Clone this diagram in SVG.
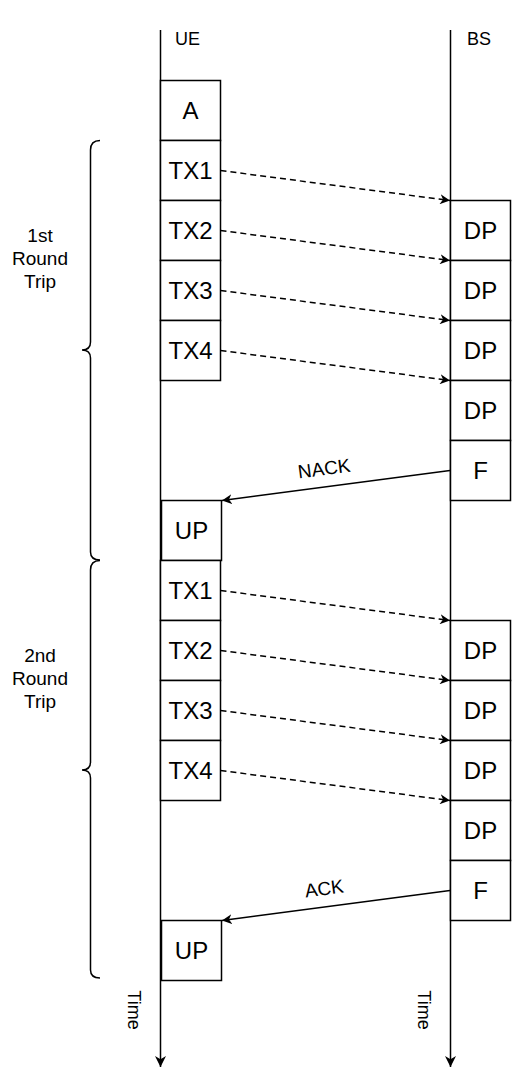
<svg xmlns="http://www.w3.org/2000/svg" width="516" height="1081" viewBox="0 0 516 1081">
<defs>
<style>
.box{fill:#fff;stroke:#000;stroke-width:1.5}
.bt{font-family:"Liberation Sans",Arial,sans-serif;font-size:24px;fill:#000;text-anchor:middle;dominant-baseline:central}
.lbl{font-family:"Liberation Sans",Arial,sans-serif;font-size:19px;fill:#000;text-anchor:middle}
.hd{font-family:"Liberation Sans",Arial,sans-serif;font-size:18px;fill:#000}
.tm{font-family:"Liberation Sans",Arial,sans-serif;font-size:18px;fill:#000;text-anchor:middle;dominant-baseline:central}
.life{stroke:#000;stroke-width:1.5;fill:none}
.dash{stroke:#000;stroke-width:1.5;fill:none;stroke-dasharray:6 4}
.solid{stroke:#000;stroke-width:1.5;fill:none}
.brace{stroke:#000;stroke-width:1.5;fill:none}
</style>
<marker id="arr" viewBox="0 0 10 10" refX="10" refY="5" markerWidth="10" markerHeight="10" markerUnits="userSpaceOnUse" orient="auto">
<path d="M0,0 L10,5 L0,10 L3,5 Z" fill="#000"/>
</marker>
<marker id="arrT" viewBox="0 0 10 10" refX="10" refY="5" markerWidth="11" markerHeight="11" markerUnits="userSpaceOnUse" orient="auto">
<path d="M0,0 L10,5 L0,10 L3,5 Z" fill="#000"/>
</marker>
</defs>
<rect width="516" height="1081" fill="#fff"/>

<g id="lifelines">
<line class="life" x1="160.5" y1="30" x2="160.5" y2="1067" marker-end="url(#arrT)"/>
<line class="life" x1="450.5" y1="30" x2="450.5" y2="1067" marker-end="url(#arrT)"/>
<text class="hd" x="175" y="45">UE</text>
<text class="hd" x="467" y="45">BS</text>
<text class="tm" transform="translate(134,1010) rotate(90)">Time</text>
<text class="tm" transform="translate(424,1010) rotate(90)">Time</text>
</g>

<g id="ue-round1">
<g id="A"><rect class="box" x="160.5" y="80.5" width="60" height="60"/><text class="bt" x="190.5" y="110.5">A</text></g>
<g id="TX1a"><rect class="box" x="160.5" y="140.5" width="60" height="60"/><text class="bt" x="190.5" y="170.5">TX1</text></g>
<g id="TX2a"><rect class="box" x="160.5" y="200.5" width="60" height="60"/><text class="bt" x="190.5" y="230.5">TX2</text></g>
<g id="TX3a"><rect class="box" x="160.5" y="260.5" width="60" height="60"/><text class="bt" x="190.5" y="290.5">TX3</text></g>
<g id="TX4a"><rect class="box" x="160.5" y="320.5" width="60" height="60"/><text class="bt" x="190.5" y="350.5">TX4</text></g>
<g id="UPa"><rect class="box" x="161.5" y="500.5" width="60" height="60"/><text class="bt" x="191.5" y="530.5">UP</text></g>
</g>

<g id="ue-round2">
<g id="TX1b"><rect class="box" x="160.5" y="560.5" width="60" height="60"/><text class="bt" x="190.5" y="590.5">TX1</text></g>
<g id="TX2b"><rect class="box" x="160.5" y="620.5" width="60" height="60"/><text class="bt" x="190.5" y="650.5">TX2</text></g>
<g id="TX3b"><rect class="box" x="160.5" y="680.5" width="60" height="60"/><text class="bt" x="190.5" y="710.5">TX3</text></g>
<g id="TX4b"><rect class="box" x="160.5" y="740.5" width="60" height="60"/><text class="bt" x="190.5" y="770.5">TX4</text></g>
<g id="UPb"><rect class="box" x="161.5" y="920.5" width="60" height="60"/><text class="bt" x="191.5" y="950.5">UP</text></g>
</g>

<g id="bs-round1">
<g id="DP1a"><rect class="box" x="450.5" y="200.5" width="60" height="60"/><text class="bt" x="480.5" y="230.5">DP</text></g>
<g id="DP2a"><rect class="box" x="450.5" y="260.5" width="60" height="60"/><text class="bt" x="480.5" y="290.5">DP</text></g>
<g id="DP3a"><rect class="box" x="450.5" y="320.5" width="60" height="60"/><text class="bt" x="480.5" y="350.5">DP</text></g>
<g id="DP4a"><rect class="box" x="450.5" y="380.5" width="60" height="60"/><text class="bt" x="480.5" y="410.5">DP</text></g>
<g id="Fa"><rect class="box" x="450.5" y="440.5" width="60" height="60"/><text class="bt" x="480.5" y="470.5">F</text></g>
</g>

<g id="bs-round2">
<g id="DP1b"><rect class="box" x="450.5" y="620.5" width="60" height="60"/><text class="bt" x="480.5" y="650.5">DP</text></g>
<g id="DP2b"><rect class="box" x="450.5" y="680.5" width="60" height="60"/><text class="bt" x="480.5" y="710.5">DP</text></g>
<g id="DP3b"><rect class="box" x="450.5" y="740.5" width="60" height="60"/><text class="bt" x="480.5" y="770.5">DP</text></g>
<g id="DP4b"><rect class="box" x="450.5" y="800.5" width="60" height="60"/><text class="bt" x="480.5" y="830.5">DP</text></g>
<g id="Fb"><rect class="box" x="450.5" y="860.5" width="60" height="60"/><text class="bt" x="480.5" y="890.5">F</text></g>
</g>

<g id="connectors">
<line class="dash" x1="220.5" y1="170.5" x2="450" y2="200.5" marker-end="url(#arr)"/>
<line class="dash" x1="220.5" y1="230.5" x2="450" y2="260.5" marker-end="url(#arr)"/>
<line class="dash" x1="220.5" y1="290.5" x2="450" y2="320.5" marker-end="url(#arr)"/>
<line class="dash" x1="220.5" y1="350.5" x2="450" y2="380.5" marker-end="url(#arr)"/>
<line class="dash" x1="220.5" y1="590.5" x2="450" y2="620.5" marker-end="url(#arr)"/>
<line class="dash" x1="220.5" y1="650.5" x2="450" y2="680.5" marker-end="url(#arr)"/>
<line class="dash" x1="220.5" y1="710.5" x2="450" y2="740.5" marker-end="url(#arr)"/>
<line class="dash" x1="220.5" y1="770.5" x2="450" y2="800.5" marker-end="url(#arr)"/>
<line class="solid" x1="450" y1="470.5" x2="222" y2="500.5" marker-end="url(#arr)"/>
<line class="solid" x1="450" y1="890.5" x2="222" y2="920.5" marker-end="url(#arr)"/>
<text class="lbl" transform="translate(325,475) rotate(-7.5)">NACK</text>
<text class="lbl" transform="translate(325,895) rotate(-7.5)">ACK</text>
</g>

<g id="brace1">
<path class="brace" d="M100,140.5 Q90.5,140.5 90.5,150 L90.5,342 Q90.5,350 82,350 Q90.5,350 90.5,358 L90.5,552 Q90.5,560 100,560"/>
<text class="lbl" x="40" y="242">1st</text>
<text class="lbl" x="40" y="265">Round</text>
<text class="lbl" x="40" y="288">Trip</text>
</g>

<g id="brace2">
<path class="brace" d="M100,560.5 Q90.5,560.5 90.5,570 L90.5,762 Q90.5,770 82,770 Q90.5,770 90.5,778 L90.5,970 Q90.5,978 100,978"/>
<text class="lbl" x="40" y="662">2nd</text>
<text class="lbl" x="40" y="685">Round</text>
<text class="lbl" x="40" y="708">Trip</text>
</g>
</svg>
